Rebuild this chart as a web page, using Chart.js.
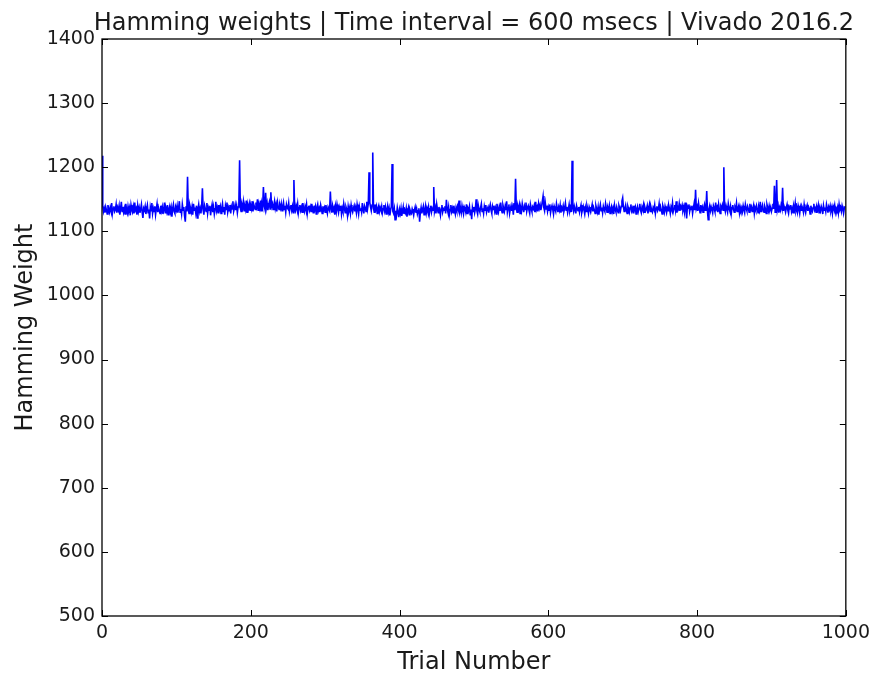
<!DOCTYPE html>
<html>
<head>
<meta charset="utf-8">
<script src="https://cdn.jsdelivr.net/npm/chart.js@4"></script>
<style>
  html, body { margin: 0; padding: 0; background: #fff; }
  #wrap { width: 876px; height: 681px; }
</style>
</head>
<body>
<div id="wrap"><canvas id="hw"></canvas></div>
<script>
// Hamming weight per trial (trial = array index)
const hammingWeights = [
  1218,1140,1131,1136,1129,1138,1133,1127,1141,1135,1130,1137,1132,1144,1128,1136,1139,1131,1134,1142,
  1129,1137,1133,1140,1126,1135,1146,1131,1138,1130,1136,1127,1143,1134,1129,1139,1132,1137,1125,1141,
  1134,1130,1138,1128,1145,1133,1136,1126,1140,1131,1137,1129,1135,1142,1130,1121,1136,1133,1139,1127,
  1135,1141,1129,1134,1120,1138,1132,1144,1128,1136,1131,1139,1126,1135,1143,1130,1137,1133,1128,1140,
  1132,1138,1127,1135,1145,1129,1136,1131,1141,1126,1134,1139,1130,1137,1123,1136,1142,1131,1128,1138,
  1133,1140,1129,1136,1147,1130,1135,1127,1142,1133,1138,1124,1115,1139,1131,1185,1134,1128,1141,1136,
  1130,1138,1126,1143,1133,1137,1129,1140,1121,1135,1142,1131,1136,1128,1139,1167,1133,1126,1140,1135,
  1131,1144,1128,1137,1133,1140,1125,1136,1142,1130,1138,1127,1135,1146,1132,1137,1129,1141,1134,1139,
  1128,1136,1143,1131,1138,1126,1140,1134,1145,1130,1137,1132,1141,1128,1139,1135,1147,1131,1136,1142,
  1133,1140,1129,1138,1144,1211,1136,1131,1142,1137,1146,1132,1139,1134,1148,1130,1141,1136,1143,1133,
  1140,1135,1147,1131,1142,1138,1134,1145,1139,1150,1133,1141,1136,1148,1132,1143,1138,1169,1140,1135,
  1160,1137,1144,1133,1141,1146,1135,1161,1139,1143,1134,1140,1147,1136,1142,1131,1145,1138,1134,1141,
  1136,1143,1132,1139,1145,1134,1140,1130,1142,1137,1135,1144,1131,1138,1141,1133,1139,1129,1180,1136,
  1132,1140,1135,1143,1129,1137,1141,1133,1138,1130,1144,1136,1131,1139,1134,1142,1128,1137,1140,1133,
  1138,1131,1143,1136,1129,1140,1134,1139,1127,1137,1142,1132,1136,1130,1141,1135,1128,1139,1133,1137,
  1130,1141,1134,1128,1138,1135,1132,1162,1136,1129,1140,1133,1137,1126,1139,1131,1142,1135,1129,1138,
  1133,1140,1127,1136,1131,1143,1135,1129,1138,1134,1125,1139,1132,1137,1128,1141,1134,1130,1136,1140,
  1131,1137,1129,1142,1135,1127,1139,1133,1136,1130,1144,1134,1128,1140,1137,1131,1146,1135,1143,1192,
  1145,1138,1132,1141,1223,1136,1130,1142,1134,1139,1128,1136,1140,1131,1137,1133,1139,1129,1135,1141,
  1132,1138,1127,1134,1140,1130,1136,1125,1133,1139,1205,1131,1128,1135,1118,1132,1126,1137,1130,1122,
  1134,1128,1136,1124,1131,1138,1127,1133,1129,1136,1123,1132,1137,1126,1134,1130,1128,1135,1131,1125,
  1133,1138,1129,1135,1127,1132,1136,1115,1130,1137,1128,1134,1139,1126,1133,1140,1129,1136,1131,1138,
  1127,1135,1140,1130,1136,1133,1169,1131,1137,1128,1142,1134,1129,1138,1132,1125,1136,1141,1130,1135,
  1133,1139,1128,1149,1135,1130,1138,1126,1134,1141,1131,1136,1129,1140,1133,1127,1137,1132,1139,1134,
  1148,1131,1136,1129,1140,1133,1127,1138,1135,1130,1142,1128,1136,1133,1139,1126,1134,1119,1137,1131,
  1138,1129,1135,1150,1132,1127,1140,1134,1130,1137,1143,1131,1136,1128,1139,1133,1141,1130,1135,1138,
  1129,1137,1142,1133,1128,1139,1134,1140,1131,1136,1127,1143,1135,1130,1138,1132,1145,1134,1129,1141,
  1136,1131,1139,1133,1147,1130,1137,1142,1128,1135,1140,1132,1138,1126,1144,1133,1182,1136,1130,1139,
  1134,1141,1128,1137,1132,1143,1136,1130,1139,1134,1145,1131,1137,1140,1133,1128,1142,1136,1131,1138,
  1135,1140,1130,1146,1134,1138,1131,1143,1136,1141,1133,1139,1147,1155,1137,1132,1144,1135,1140,1131,
  1138,1133,1142,1129,1136,1140,1134,1127,1139,1135,1131,1143,1136,1130,1138,1133,1141,1129,1137,1134,
  1140,1131,1136,1144,1133,1138,1129,1135,1142,1132,1137,1130,1210,1136,1131,1139,1134,1128,1140,1135,
  1132,1138,1130,1136,1141,1129,1134,1139,1133,1127,1137,1131,1140,1135,1128,1138,1134,1130,1136,1142,
  1131,1137,1133,1128,1140,1135,1130,1138,1126,1136,1142,1132,1137,1129,1139,1134,1131,1143,1136,1130,
  1137,1133,1140,1128,1135,1139,1131,1136,1127,1141,1134,1130,1138,1133,1129,1140,1136,1132,1139,1147,
  1152,1138,1131,1136,1141,1133,1128,1139,1135,1130,1137,1142,1132,1136,1129,1140,1134,1138,1127,1135,
  1139,1131,1136,1143,1133,1129,1138,1134,1141,1130,1137,1132,1135,1140,1128,1136,1142,1131,1138,1133,
  1130,1137,1134,1141,1128,1136,1139,1132,1135,1143,1131,1138,1133,1127,1140,1136,1130,1139,1134,1129,
  1137,1132,1140,1135,1128,1138,1134,1144,1131,1136,1141,1133,1147,1129,1138,1135,1143,1132,1139,1136,
  1141,1133,1138,1130,1145,1135,1120,1139,1136,1142,1131,1137,1134,1140,1128,1136,1143,1133,1165,1135,
  1139,1132,1144,1136,1129,1141,1134,1138,1130,1137,1142,1133,1136,1163,1131,1118,1135,1140,1132,1138,
  1134,1129,1140,1136,1131,1145,1135,1138,1130,1142,1134,1128,1139,1136,1141,1133,1200,1137,1131,1140,
  1135,1130,1143,1136,1132,1139,1128,1137,1141,1134,1130,1138,1135,1144,1131,1136,1140,1129,1138,1133,
  1137,1131,1140,1134,1129,1142,1136,1132,1139,1135,1130,1143,1134,1138,1131,1136,1141,1128,1137,1133,
  1140,1135,1129,1138,1133,1146,1131,1136,1141,1134,1130,1139,1135,1128,1142,1137,1132,1140,1134,1138,
  1131,1136,1143,1135,1171,1130,1138,1180,1134,1140,1129,1137,1133,1141,1136,1168,1132,1139,1135,1130,
  1137,1142,1133,1128,1138,1135,1141,1131,1136,1129,1139,1134,1144,1132,1137,1130,1140,1135,1128,1138,
  1133,1139,1136,1130,1142,1134,1129,1137,1141,1132,1138,1135,1127,1140,1134,1131,1137,1143,1133,1136,
  1130,1138,1134,1141,1129,1136,1132,1139,1135,1127,1140,1133,1137,1131,1142,1136,1129,1138,1134,1140,
  1132,1137,1128,1139,1135,1141,1130,1136,1133,1138,1129,1142,1134,1137,1131,1140,1135,1128,1136,1139
];

// axis ranges / tick spacing as printed on the reference
const xRange = [0, 1000];
const xStep = 200;
const yRange = [500, 1400];
const yStep = 100;

const chartTitle = 'Hamming weights | Time interval = 600 msecs | Vivado 2016.2';
const xLabel = 'Trial Number';
const yLabel = 'Hamming Weight';

const FONT = 'DejaVu Sans';
const INK = '#1a1a1a';

// plain integers, no thousands separator (matplotlib prints 1400, not 1,400)
const plainTick = v => String(v);

// ── matplotlib-style frame ──
// box around the plot area, short ticks pointing inwards on all four sides,
// and the title centred over the plot area (not the canvas)
const framePlugin = {
    id: 'mplFrame',
    afterDatasetsDraw(chart) {
        const { ctx, chartArea: a, scales } = chart;
        const len = 6;
        ctx.save();
        ctx.strokeStyle = '#000';
        ctx.lineWidth = 1;
        ctx.beginPath();
        scales.x.ticks.forEach(t => {
            const px = Math.round(scales.x.getPixelForValue(t.value)) + 0.5;
            ctx.moveTo(px, a.bottom); ctx.lineTo(px, a.bottom - len);
            ctx.moveTo(px, a.top);    ctx.lineTo(px, a.top + len);
        });
        scales.y.ticks.forEach(t => {
            const py = Math.round(scales.y.getPixelForValue(t.value)) + 0.5;
            ctx.moveTo(a.left, py);  ctx.lineTo(a.left + len, py);
            ctx.moveTo(a.right, py); ctx.lineTo(a.right - len, py);
        });
        ctx.stroke();
        ctx.lineWidth = 1.3;
        ctx.strokeRect(a.left, a.top, a.right - a.left, a.bottom - a.top);

        ctx.fillStyle = INK;
        ctx.font = `24px "${FONT}"`;
        ctx.textAlign = 'center';
        ctx.textBaseline = 'alphabetic';
        ctx.fillText(chartTitle, (a.left + a.right) / 2, 30);
        ctx.restore();
    }
};

function initChart() {
    const ctx = document.getElementById('hw').getContext('2d');
    new Chart(ctx, {
        type: 'line',
        data: {
            datasets: [{
                data: hammingWeights.map((v, i) => ({ x: i, y: v })),
                borderColor: '#0000ff',
                borderWidth: 1.6,
                pointRadius: 0,
                tension: 0,
                fill: false
            }]
        },
        options: {
            responsive: true,
            maintainAspectRatio: false,
            animation: false,
            events: [],
            layout: { padding: { top: 39, right: 30, left: 0, bottom: 0 } },
            plugins: { legend: { display: false }, tooltip: { enabled: false } },
            scales: {
                x: {
                    type: 'linear',
                    min: xRange[0], max: xRange[1],
                    grid: { display: false, drawTicks: false },
                    border: { display: false },
                    ticks: { stepSize: xStep, color: INK, padding: 6, maxRotation: 0,
                             callback: plainTick, font: { family: FONT, size: 19 } },
                    title: { display: true, text: xLabel, color: INK, padding: { top: 0, bottom: 4 },
                             font: { family: FONT, size: 24 } },
                    afterFit(scale) { scale.height = 65; }
                },
                y: {
                    min: yRange[0], max: yRange[1],
                    grid: { display: false, drawTicks: false },
                    border: { display: false },
                    ticks: { stepSize: yStep, color: INK, padding: 7,
                             callback: plainTick, font: { family: FONT, size: 19 } },
                    title: { display: true, text: yLabel, color: INK, padding: { top: 11, bottom: 0 },
                             font: { family: FONT, size: 24 } },
                    afterFit(scale) { scale.width = 102; }
                }
            }
        },
        plugins: [framePlugin]
    });
}

document.addEventListener('DOMContentLoaded', initChart);
</script>
</body>
</html>
